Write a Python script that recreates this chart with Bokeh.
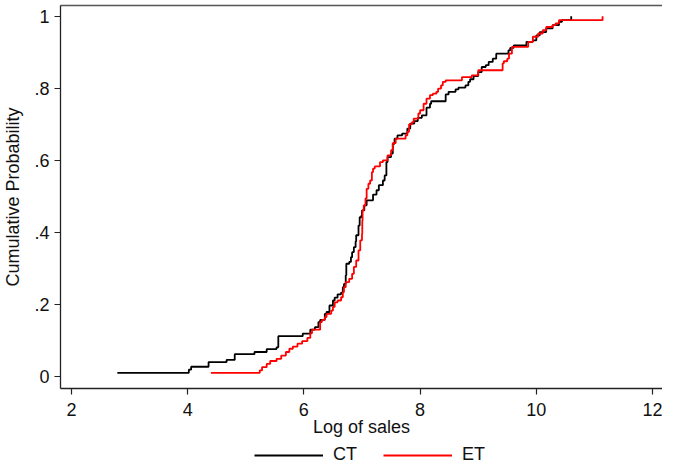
from bokeh.plotting import figure
from bokeh.layouts import column
from bokeh.models import (Range1d, FixedTicker, LinearAxis, Legend, LegendItem)
from bokeh.embed import file_html
from bokeh.resources import INLINE

# ---- data ----
ct_x = [2.79, 4.02, 4.06, 4.36, 4.67, 4.81, 5.15, 5.36, 5.53, 5.56, 5.98, 6.11,
        6.19, 6.25, 6.28, 6.36, 6.39, 6.44, 6.50, 6.53, 6.58, 6.64, 6.67, 6.69,
        6.72, 6.73, 6.78, 6.81, 6.83, 6.86, 6.89, 6.90, 6.94, 6.96, 6.99, 7.00,
        7.04, 7.08, 7.19, 7.25, 7.29, 7.36, 7.39, 7.42, 7.44, 7.50, 7.53, 7.56,
        7.61, 7.69, 7.78, 7.83, 7.90, 7.96, 8.03, 8.11, 8.17, 8.19, 8.44, 8.49,
        8.61, 8.66, 8.78, 8.83, 8.86, 8.92, 9.00, 9.06, 9.13, 9.18, 9.25, 9.31,
        9.52, 9.55, 9.61, 9.83, 9.94, 10.00, 10.06, 10.17, 10.28, 10.39, 10.44,
        10.60]
ct_y = [0.010, 0.019, 0.027, 0.040, 0.046, 0.062, 0.068, 0.076, 0.081, 0.112, 0.119, 0.130,
        0.137, 0.151, 0.157, 0.174, 0.179, 0.197, 0.211, 0.219, 0.228, 0.233, 0.248, 0.257,
        0.281, 0.313, 0.318, 0.331, 0.345, 0.359, 0.375, 0.392, 0.419, 0.442, 0.447, 0.461,
        0.475, 0.489, 0.505, 0.517, 0.531, 0.544, 0.558, 0.595, 0.609, 0.619, 0.646, 0.660,
        0.669, 0.674, 0.688, 0.702, 0.709, 0.718, 0.725, 0.746, 0.757, 0.764, 0.783, 0.790,
        0.797, 0.802, 0.808, 0.818, 0.825, 0.834, 0.845, 0.859, 0.864, 0.873, 0.882, 0.896,
        0.905, 0.912, 0.919, 0.929, 0.933, 0.947, 0.956, 0.966, 0.975, 0.984, 0.989,
        1.000]

et_x = [4.40, 5.24, 5.28, 5.36, 5.42, 5.53, 5.61, 5.69, 5.75, 5.81, 5.89, 5.97,
        6.06, 6.11, 6.14, 6.28, 6.31, 6.36, 6.39, 6.47, 6.50, 6.53, 6.58, 6.64,
        6.67, 6.69, 6.72, 6.78, 6.83, 6.86, 6.90, 6.94, 6.97, 7.00, 7.005, 7.01,
        7.03, 7.06, 7.08, 7.11, 7.14, 7.17, 7.19, 7.22, 7.31, 7.36, 7.44, 7.50,
        7.53, 7.58, 7.75, 7.78, 7.81, 7.86, 7.89, 7.97, 8.00, 8.06, 8.11, 8.17,
        8.22, 8.28, 8.31, 8.36, 8.39, 8.44, 8.72, 8.89, 9.00, 9.42, 9.44, 9.50,
        9.53, 9.58, 9.86, 9.94, 10.03, 10.11, 10.17, 10.28, 10.33, 10.39, 11.14]
et_y = [0.010, 0.017, 0.026, 0.035, 0.043, 0.049, 0.058, 0.068, 0.077, 0.083, 0.091, 0.098,
        0.107, 0.120, 0.130, 0.151, 0.157, 0.165, 0.174, 0.183, 0.193, 0.206, 0.211, 0.220,
        0.234, 0.248, 0.262, 0.271, 0.285, 0.304, 0.322, 0.350, 0.378, 0.396, 0.433, 0.461,
        0.475, 0.494, 0.521, 0.535, 0.544, 0.567, 0.577, 0.583, 0.595, 0.600, 0.614, 0.628,
        0.648, 0.660, 0.669, 0.679, 0.700, 0.706, 0.716, 0.730, 0.739, 0.757, 0.771, 0.781,
        0.785, 0.790, 0.799, 0.808, 0.818, 0.822, 0.831, 0.836, 0.850, 0.869, 0.875, 0.882,
        0.896, 0.915, 0.929, 0.943, 0.952, 0.961, 0.970, 0.975, 0.980, 0.989, 1.000]

x_ticks = [2, 4, 6, 8, 10, 12]
y_ticks = [0, 0.2, 0.4, 0.6, 0.8, 1]
y_tick_labels = ["0", ".2", ".4", ".6", ".8", "1"]
series_names = ["CT", "ET"]
series_colors = ["#000000", "#FF0000"]

FONT = "Liberation Sans"
FS = "18px"
LW = 1.8

p = figure(width=662, height=440, output_backend="svg", toolbar_location=None,
           x_range=Range1d(1.812, 12.171), y_range=Range1d(-0.0333, 1.0297),
           min_border_left=55, min_border_right=0, min_border_top=5,
           min_border_bottom=52)
p.outline_line_color = None
p.xgrid.visible = False
p.ygrid.visible = False
p.background_fill_color = "white"
p.border_fill_color = "white"

p.step(ct_x, ct_y, mode="after", line_color=series_colors[0], line_width=LW)
p.step(et_x, et_y, mode="after", line_color=series_colors[1], line_width=LW)

for ax in (p.xaxis[0], p.yaxis[0]):
    ax.axis_line_color = "#222222"
    ax.axis_line_width = 1.3
    ax.major_tick_line_color = "#222222"
    ax.major_tick_line_width = 1.2
    ax.major_tick_out = 6
    ax.major_tick_in = 0
    ax.minor_tick_line_color = None
    ax.major_label_text_font = FONT
    ax.major_label_text_font_size = FS
    ax.major_label_text_color = "#111111"
    ax.axis_label_text_font = FONT
    ax.axis_label_text_font_size = FS
    ax.axis_label_text_font_style = "normal"
    ax.axis_label_text_color = "#111111"

p.xaxis[0].ticker = FixedTicker(ticks=x_ticks)
p.xaxis[0].axis_label = "Log of sales"
p.xaxis[0].major_label_standoff = 8
p.xaxis[0].axis_label_standoff = -2

p.yaxis[0].ticker = FixedTicker(ticks=y_ticks)
p.yaxis[0].major_label_overrides = {t: l for t, l in zip(y_ticks, y_tick_labels)}
p.yaxis[0].major_label_orientation = "horizontal"
p.yaxis[0].axis_label = "Cumulative Probability"
p.yaxis[0].major_label_standoff = 5
p.yaxis[0].axis_label_standoff = 8

top = LinearAxis(ticker=FixedTicker(ticks=[]), axis_line_color="#555555",
                 axis_line_width=1.5, major_tick_out=0, major_tick_in=0,
                 minor_tick_out=0, minor_tick_in=0, major_label_standoff=0,
                 major_label_text_font_size="0px")
p.add_layout(top, "above")

# legend strip below the plot (its lines fall outside its own visible range)
q = figure(width=662, height=25, output_backend="svg", toolbar_location=None,
           x_axis_type=None, y_axis_type=None, min_border=0,
           x_range=Range1d(0, 1), y_range=Range1d(0, 1))
q.outline_line_color = None
q.xgrid.visible = False
q.ygrid.visible = False
l_ct = q.step(ct_x, ct_y, mode="after", line_color=series_colors[0], line_width=LW)
l_et = q.step(et_x, et_y, mode="after", line_color=series_colors[1], line_width=LW)
legend = Legend(items=[LegendItem(label=series_names[0], renderers=[l_ct]),
                       LegendItem(label=series_names[1], renderers=[l_et])],
                orientation="horizontal", location=(194, 0),
                border_line_color=None, background_fill_alpha=0,
                label_text_font=FONT, label_text_font_size=FS,
                label_text_color="#111111",
                glyph_width=69, glyph_height=18, label_standoff=10, spacing=26,
                padding=0, margin=0)
q.add_layout(legend)

layout = column(p, q, spacing=0)
open("out.html", "w").write(file_html(layout, INLINE))
